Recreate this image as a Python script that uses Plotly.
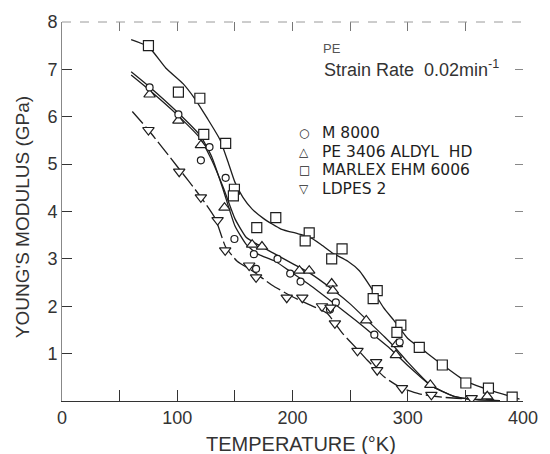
import plotly.graph_objects as go

# ---- measured points (temperature in K, modulus in GPa) ----
m8000_T = [76, 101, 120.5, 128, 142, 149.6, 166.5, 168.4, 187, 198, 207, 232.5, 237.6, 271, 293]
m8000_E = [6.62, 6.05, 5.08, 5.36, 4.71, 3.42, 3.10, 2.79, 3.00, 2.69, 2.52, 1.93, 2.08, 1.40, 1.24]

pe3406_T = [76, 101, 120.5, 141, 165, 173.5, 206, 214.5, 234, 235, 264, 290.6, 289.7, 319.6, 369]
pe3406_E = [6.47, 5.92, 5.40, 4.08, 3.30, 3.26, 2.75, 2.75, 2.48, 2.33, 1.70, 1.20, 0.97, 0.34, 0.10]

marlex_T = [75, 101, 119.6, 123, 142, 149.6, 148.7, 169, 185.5, 214.5, 211, 243, 234,
            273.5, 270, 294, 290.6, 310, 330, 350.4, 370, 390.6]
marlex_E = [7.50, 6.52, 6.39, 5.63, 5.44, 4.47, 4.33, 3.66, 3.87, 3.55, 3.38, 3.21, 3.00,
            2.33, 2.16, 1.60, 1.45, 1.13, 0.76, 0.38, 0.27, 0.08]

ldpe_T = [75, 101.7, 120.5, 135, 141.6, 162.4, 168.4, 195, 208.5, 225.6, 233, 236.8,
          256.4, 272.6, 273.5, 295, 320.5, 355.5]
ldpe_E = [5.72, 4.84, 4.30, 3.82, 3.18, 2.86, 2.61, 2.18, 2.18, 2.00, 1.97, 1.64,
          1.06, 0.82, 0.65, 0.27, 0.13, 0.06]

# ---- hand-drawn trend curves ----
marlex_fit_T = [60, 75, 90, 105, 115, 126, 137, 144, 150, 157, 165, 175, 190, 205, 215, 225,
                235, 248, 258, 268, 279, 288, 300, 312, 327, 350, 370, 390, 397]
marlex_fit_E = [7.63, 7.48, 7.03, 6.70, 6.39, 5.97, 5.52, 5.05, 4.62, 4.30, 4.05, 3.85, 3.63,
                3.53, 3.46, 3.30, 3.12, 2.95, 2.75, 2.40, 1.97, 1.70, 1.32, 1.10, 0.82, 0.42,
                0.24, 0.09, 0.04]

m8000_fit_T = [60, 75, 100, 120, 130, 140, 150, 160, 170, 185, 200, 215, 235, 255, 270, 285,
               300, 320, 340, 360, 380]
m8000_fit_E = [6.95, 6.65, 6.10, 5.60, 5.15, 4.45, 3.70, 3.30, 3.10, 2.95, 2.70, 2.45, 2.08,
               1.70, 1.40, 1.10, 0.75, 0.33, 0.10, 0.03, 0.01]

pe3406_fit_T = [60, 75, 100, 120, 130, 140, 150, 160, 170, 185, 200, 215, 235, 250, 265, 280,
                290, 300, 320, 340, 360, 380]
pe3406_fit_E = [6.88, 6.58, 6.04, 5.54, 5.08, 4.50, 3.85, 3.45, 3.30, 3.10, 2.90, 2.70, 2.35,
                2.05, 1.70, 1.35, 1.10, 0.82, 0.33, 0.10, 0.03, 0.01]

ldpe_fit_T = [61, 75, 100, 120, 133, 142, 152, 165, 182, 200, 215, 230, 244, 256, 265, 280,
              295, 310, 330, 355, 375]
ldpe_fit_E = [6.11, 5.72, 4.95, 4.32, 3.85, 3.25, 2.95, 2.75, 2.45, 2.20, 2.03, 1.85, 1.41,
              1.10, 0.86, 0.50, 0.27, 0.15, 0.08, 0.04, 0.03]

legend_symbols = ["○", "△", "□", "▽"]
legend_labels = ["M 8000", "PE 3406 ALDYL  HD", "MARLEX EHM 6006", "LDPES 2"]

x_tickvals = [0, 100, 200, 300, 400]
y_tickvals = [1, 2, 3, 4, 5, 6, 7, 8]

INK = "#1e1e1e"
FONT = "Liberation Sans"

fig = go.Figure()

curves = [
    (marlex_fit_T, marlex_fit_E, "solid"),
    (m8000_fit_T, m8000_fit_E, "solid"),
    (pe3406_fit_T, pe3406_fit_E, "solid"),
    (ldpe_fit_T, ldpe_fit_E, "16px,4px"),
]
for xs, ys, dash in curves:
    fig.add_trace(go.Scatter(
        x=xs, y=ys, mode="lines",
        line=dict(color=INK, width=1.3, shape="spline", smoothing=0.5, dash=dash),
        hoverinfo="skip", showlegend=False,
    ))

# white-filled open symbols so the curves break at each point
points = [
    (marlex_T, marlex_E, "square", 10),
    (pe3406_T, pe3406_E, "triangle-up", 10),
    (m8000_T, m8000_E, "circle", 7),
    (ldpe_T, ldpe_E, "triangle-down", 10),
]
for xs, ys, sym, size in points:
    fig.add_trace(go.Scatter(
        x=xs, y=ys, mode="markers",
        marker=dict(symbol=sym, size=size, color="white", line=dict(color=INK, width=1.2)),
        showlegend=False,
    ))

# legend block and test conditions written on the plot
legend_y = [5.66, 5.265, 4.87, 4.475]
for sym, txt, yy in zip(legend_symbols, legend_labels, legend_y):
    fig.add_annotation(x=210, y=yy, xref="x", yref="y", text=sym, showarrow=False,
                       xanchor="center", yanchor="middle",
                       font=dict(family="DejaVu Sans", size=12, color=INK))
    fig.add_annotation(x=224, y=yy, xref="x", yref="y", text=txt, showarrow=False,
                       xanchor="left", yanchor="middle",
                       font=dict(family="DejaVu Sans", size=15.5, color=INK))
fig.add_annotation(x=225, y=7.44, xref="x", yref="y", text="PE", showarrow=False,
                   xanchor="left", yanchor="middle",
                   font=dict(family=FONT, size=13, color="#555"))
fig.add_annotation(x=226, y=7.02, xref="x", yref="y", text="Strain Rate  0.02min<sup>-1</sup>",
                   showarrow=False, xanchor="left", yanchor="middle",
                   font=dict(family=FONT, size=18, color="#333"))

# axis titles
fig.add_annotation(x=0.519, y=-0.113, xref="paper", yref="paper", text="TEMPERATURE (°K)",
                   showarrow=False, xanchor="center", yanchor="middle",
                   font=dict(family=FONT, size=20, color="#333"))
fig.add_annotation(x=-0.086, y=0.486, xref="paper", yref="paper", text="YOUNG'S MODULUS (GPa)",
                   showarrow=False, textangle=-90, xanchor="center", yanchor="middle",
                   font=dict(family=FONT, size=19, color="#333"))

# faint top frame line
fig.add_shape(type="line", xref="paper", yref="paper", x0=0, x1=1, y0=1, y1=1,
              line=dict(color="#9a9a9a", width=1, dash="dash"))

fig.update_layout(
    width=550, height=454,
    margin=dict(l=62, r=20, t=20, b=53),
    paper_bgcolor="white", plot_bgcolor="white",
    font=dict(family=FONT, color="#333"),
    xaxis=dict(range=[0, 400], tickvals=x_tickvals,
               ticks="inside", ticklen=11, tickwidth=1.2, tickcolor="#333",
               minor=dict(tick0=0, dtick=50, ticks="inside", ticklen=11,
                          tickwidth=1.2, tickcolor="#333", showgrid=False),
               showline=True, linecolor="#333", linewidth=1.2,
               showgrid=False, zeroline=False,
               tickfont=dict(family=FONT, size=18, color="#333")),
    yaxis=dict(range=[0, 8], tickvals=y_tickvals,
               ticks="inside", ticklen=10, tickwidth=1.3, tickcolor="#333",
               showline=True, linecolor="#888", linewidth=1,
               showgrid=False, zeroline=False,
               tickfont=dict(family=FONT, size=18, color="#333")),
    xaxis2=dict(range=[0, 400], overlaying="x", side="top",
                tickvals=[50, 100, 150, 200, 250, 300, 350],
                ticks="inside", ticklen=9, tickwidth=1, tickcolor="#777",
                showticklabels=False, showline=False, showgrid=False, zeroline=False),
    yaxis2=dict(range=[0, 8], overlaying="y", side="right", anchor="x",
                tickvals=[1, 2, 3, 4, 5, 6, 7],
                ticks="inside", ticklen=8, tickwidth=1, tickcolor="#888",
                showticklabels=False, showline=False, showgrid=False, zeroline=False),
)

# invisible carriers so the secondary axes get drawn
fig.add_trace(go.Scatter(x=[0], y=[0], xaxis="x2", yaxis="y", mode="markers",
                         marker=dict(opacity=0), hoverinfo="skip", showlegend=False))
fig.add_trace(go.Scatter(x=[0], y=[0], xaxis="x", yaxis="y2", mode="markers",
                         marker=dict(opacity=0), hoverinfo="skip", showlegend=False))

fig.write_html("out.html")
